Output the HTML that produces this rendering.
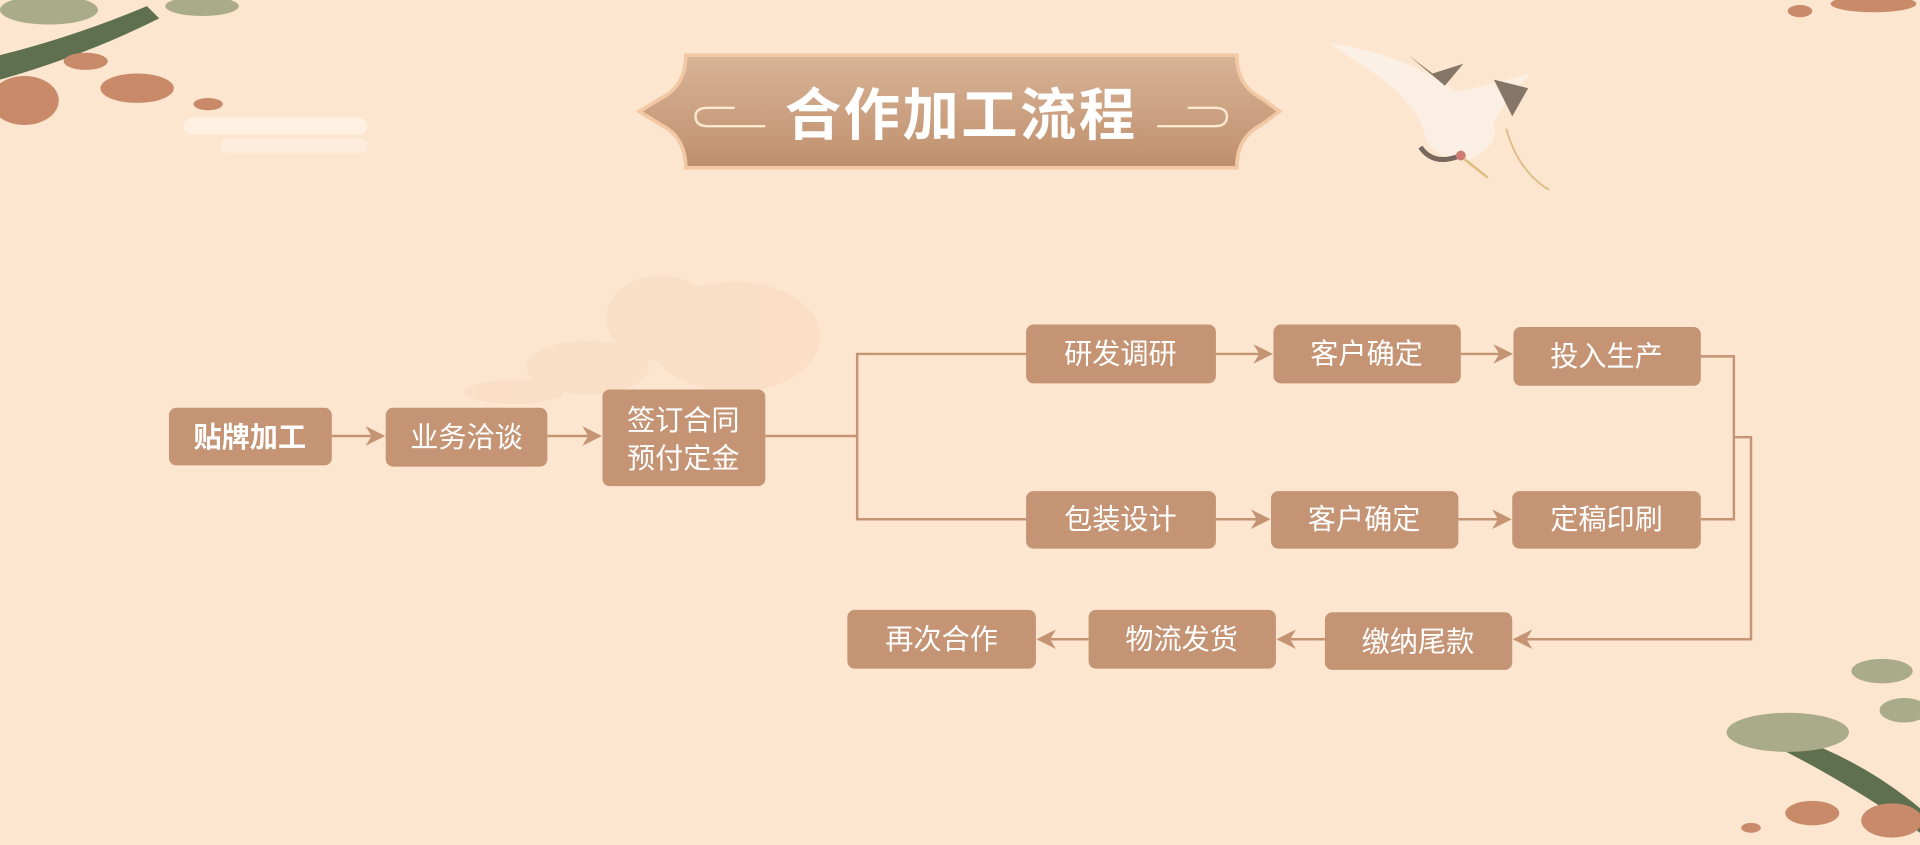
<!DOCTYPE html>
<html><head><meta charset="utf-8"><style>
html,body{margin:0;padding:0;width:1920px;height:845px;overflow:hidden;background:#fde6cf}
svg{display:block}
text{font-family:"Liberation Sans","Noto Sans CJK SC",sans-serif;fill:#fff}
</style></head><body>
<svg width="1920" height="845" viewBox="0 0 1568 690" xmlns="http://www.w3.org/2000/svg">
<defs>
<linearGradient id="bn" x1="0" y1="0" x2="0" y2="1"><stop offset="0" stop-color="#d8b497"/><stop offset="1" stop-color="#bf8f6c"/></linearGradient>
<marker id="ar" viewBox="0 0 10 10" refX="9" refY="5" markerWidth="8" markerHeight="8" orient="auto"><path d="M0,0 L10,5 L0,10 L3,5 z" fill="#c49474"/></marker>
</defs>
<rect width="1568" height="690" fill="#fde6cf"/>
<g fill="#f6d8bb" opacity="0.45">
<ellipse cx="600" cy="275" rx="70" ry="45"/><ellipse cx="540" cy="260" rx="45" ry="35"/><ellipse cx="480" cy="300" rx="50" ry="22"/><ellipse cx="420" cy="320" rx="40" ry="10"/>
</g>
<g>
<path d="M0,45 Q60,30 120,5 L130,15 Q70,45 0,65 z" fill="#5f7050"/>
<ellipse cx="20" cy="82" rx="28" ry="20" fill="#c98a6a"/>
<ellipse cx="112" cy="72" rx="30" ry="12" fill="#c98a6a"/>
<ellipse cx="70" cy="50" rx="18" ry="7" fill="#c98a6a"/>
<ellipse cx="170" cy="85" rx="12" ry="5" fill="#c98a6a"/>
<ellipse cx="40" cy="8" rx="40" ry="12" fill="#a9ab8a"/>
<ellipse cx="165" cy="5" rx="30" ry="8" fill="#a9ab8a"/>
<rect x="150" y="96" width="150" height="14" rx="7" fill="#fff4ea" opacity="0.7"/>
<rect x="180" y="113" width="120" height="12" rx="6" fill="#fff4ea" opacity="0.5"/>
</g>
<ellipse cx="1530" cy="3" rx="35" ry="7" fill="#c98a6a"/>
<ellipse cx="1470" cy="9" rx="10" ry="5" fill="#c98a6a"/>
<g>
<path d="M1460,600 Q1520,620 1568,660 L1568,680 Q1510,640 1455,612 z" fill="#5f7050"/>
<ellipse cx="1460" cy="598" rx="50" ry="16" fill="#a9ab8a"/>
<ellipse cx="1537" cy="548" rx="25" ry="10" fill="#a9ab8a"/>
<ellipse cx="1555" cy="580" rx="20" ry="10" fill="#a9ab8a"/>
<ellipse cx="1480" cy="664" rx="22" ry="10" fill="#c98a6a"/>
<ellipse cx="1545" cy="670" rx="25" ry="14" fill="#c98a6a"/>
<ellipse cx="1430" cy="676" rx="8" ry="4" fill="#c98a6a"/>
</g>
<g opacity="0.9">
<path d="M1085,35 Q1150,45 1190,75 L1250,60 Q1230,80 1220,100 Q1225,120 1200,130 Q1175,132 1165,115 Q1160,90 1130,65 z" fill="#fbf1e6"/>
<path d="M1150,45 L1170,60 L1195,52 L1180,70 z" fill="#7a6a5c"/>
<path d="M1220,65 L1248,72 L1235,95 z" fill="#7a6a5c"/>
<path d="M1160,120 Q1170,135 1190,128" stroke="#6a5a50" stroke-width="4" fill="none"/>
<circle cx="1193" cy="127" r="4" fill="#c9706a"/>
<path d="M1196,130 L1215,145" stroke="#d9b878" stroke-width="2"/>
<path d="M1230,105 Q1240,140 1265,155" stroke="#d9b878" stroke-width="1.5" fill="none"/>
</g>
<path d="M560,45 L1010,45 Q1010,70 1030,80 L1045,91 L1030,102 Q1010,112 1010,137 L560,137 Q560,112 540,102 L522,91 L540,80 Q560,70 560,45 z" fill="url(#bn)" stroke="#f3c9a5" stroke-width="3"/>
<g stroke="#fbe8cf" stroke-width="2" fill="none">
<path d="M625,103 L578,103 Q568,103 568,95 Q568,88 578,88 L600,88"/>
<path d="M945,103 L992,103 Q1002,103 1002,95 Q1002,88 992,88 L970,88"/>
</g>
<text x="785" y="110" text-anchor="middle" font-size="46" font-weight="bold" font-family="'Noto Serif CJK SC','Noto Sans CJK SC',serif" letter-spacing="2">合作加工流程</text>
<g stroke="#c49474" stroke-width="2" fill="none">
<line x1="271" y1="356" x2="313" y2="356" marker-end="url(#ar)"/>
<line x1="447" y1="356" x2="490" y2="356" marker-end="url(#ar)"/>
<polyline points="625,356 700,356"/>
<polyline points="838,289 700,289 700,424 838,424"/>
<line x1="993" y1="289" x2="1038" y2="289" marker-end="url(#ar)"/>
<line x1="1193" y1="289" x2="1234" y2="289" marker-end="url(#ar)"/>
<line x1="993" y1="424" x2="1036" y2="424" marker-end="url(#ar)"/>
<line x1="1191" y1="424" x2="1233" y2="424" marker-end="url(#ar)"/>
<polyline points="1389,291 1416,291 1416,424 1389,424"/>
<polyline points="1416,357 1430,357 1430,522 1237,522" marker-end="url(#ar)"/>
<line x1="1082" y1="522" x2="1044" y2="522" marker-end="url(#ar)"/>
<line x1="889" y1="522" x2="848" y2="522" marker-end="url(#ar)"/>
</g>
<g fill="#c49474">
<rect x="138" y="333" width="133" height="47" rx="6"/>
<rect x="315" y="333" width="132" height="48" rx="6"/>
<rect x="492" y="318" width="133" height="79" rx="6"/>
<rect x="838" y="265" width="155" height="48" rx="6"/>
<rect x="1040" y="265" width="153" height="48" rx="6"/>
<rect x="1236" y="267" width="153" height="48" rx="6"/>
<rect x="838" y="401" width="155" height="47" rx="6"/>
<rect x="1038" y="401" width="153" height="47" rx="6"/>
<rect x="1235" y="401" width="154" height="47" rx="6"/>
<rect x="1082" y="500" width="153" height="47" rx="6"/>
<rect x="889" y="498" width="153" height="48" rx="6"/>
<rect x="692" y="498" width="154" height="48" rx="6"/>
</g>
<g font-size="23" text-anchor="middle">
<text x="204" y="365" font-weight="bold">贴牌加工</text>
<text x="381" y="365">业务洽谈</text>
<text x="558" y="351">签订合同</text>
<text x="558" y="382">预付定金</text>
<text x="915" y="297">研发调研</text>
<text x="1116" y="297">客户确定</text>
<text x="1312" y="299">投入生产</text>
<text x="915" y="432">包装设计</text>
<text x="1114" y="432">客户确定</text>
<text x="1312" y="432">定稿印刷</text>
<text x="1158" y="532">缴纳尾款</text>
<text x="965" y="530">物流发货</text>
<text x="769" y="530">再次合作</text>
</g>
</svg>
</body></html>
